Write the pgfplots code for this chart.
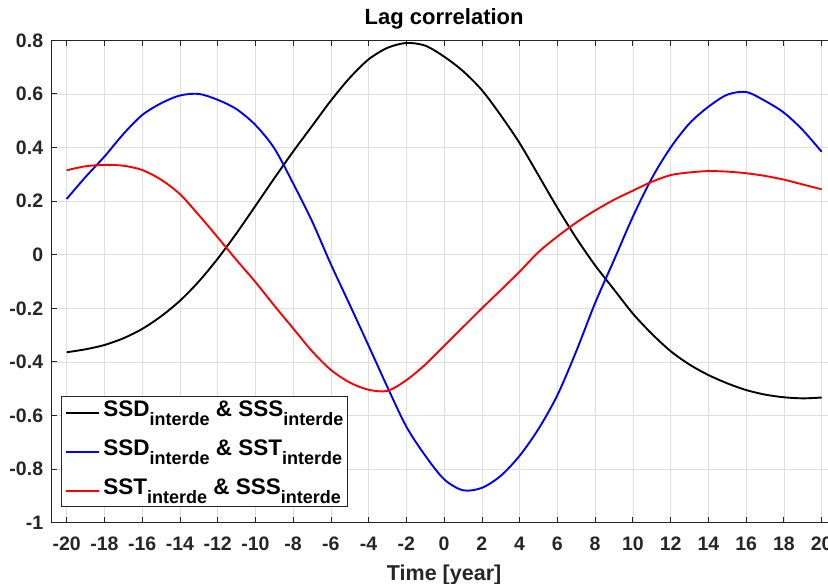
\documentclass[border=0pt]{standalone}
\usepackage{pgfplots}
\pgfplotsset{compat=1.18}
\usepackage{fontspec}
\setmainfont{Liberation Sans}
\definecolor{axgray}{RGB}{38,38,38}
\newcommand{\sub}[1]{\raisebox{-9.3pt}{\fontsize{18}{18}\selectfont #1}}
\newcommand{\legfont}{\fontsize{22.5}{23}\selectfont\bfseries}
\begin{document}
\begin{tikzpicture}
\begin{axis}[
  name=ax,
  scale only axis, width=786.3pt, height=482.4pt,
  xmin=-20.83, xmax=20.83, ymin=-1, ymax=0.8,
  xtick={-20,-18,-16,-14,-12,-10,-8,-6,-4,-2,0,2,4,6,8,10,12,14,16,18,20},
  xticklabels={-20,-18,-16,-14,-12,-10,-8,-6,-4,-2,0,2,4,6,8,10,12,14,16,18,20},
  ytick={-1,-0.8,-0.6,-0.4,-0.2,0,0.2,0.4,0.6,0.8},
  yticklabels={-1,-0.8,-0.6,-0.4,-0.2,0,0.2,0.4,0.6,0.8},
  grid=major,
  major grid style={draw=black!13, line width=0.6pt},
  axis line style={draw=axgray, line width=0.8pt},
  tick style={draw=axgray, line width=0.8pt},
  major tick length=6pt,
  tick align=inside,
  xtick pos=both, ytick pos=both,
  /pgf/number format/assume math mode=true,
  ticklabel style={font=\fontsize{19.5}{20}\selectfont\bfseries, text=axgray, inner sep=0pt},
  xticklabel style={anchor=base, yshift=-27.3pt},
  yticklabel style={anchor=east, xshift=-7.7pt},
  title={Lag correlation},
  title style={at={(axis description cs:0.5,1)}, anchor=base, yshift=9.3pt, font=\fontsize{22}{23}\selectfont\bfseries, inner sep=0pt},
  xlabel={Time [year]},
  xlabel style={at={(axis description cs:0.5,0)}, anchor=base, yshift=-57.3pt, font=\fontsize{21.5}{22}\selectfont\bfseries, text=axgray, inner sep=0pt},
  legend cell align=left,
  legend style={at={(axis description cs:0.0127,0.0325)}, anchor=south west,
    draw=axgray, line width=0.8pt, fill=white, inner xsep=4pt, inner ysep=3pt,
    font=\legfont, row sep=13pt, column sep=3pt,
    nodes={inner sep=0pt, text=black, text height=16.5pt, text depth=9.5pt}},
  legend image code/.code={\draw[#1, line width=2pt] (0pt,0pt) -- (33pt,0pt);},
]
\addplot[black, line width=1.9pt, smooth] coordinates {
(-20,-0.364) (-19,-0.353) (-18,-0.337) (-17,-0.312) (-16,-0.277) (-15,-0.230)
(-14,-0.172) (-13,-0.100) (-12,-0.015) (-11,0.080) (-10,0.182) (-9,0.285)
(-8,0.385) (-7,0.480) (-6,0.575) (-5,0.660) (-4,0.729) (-3,0.772) (-2,0.790)
(-1,0.780) (0,0.739) (1,0.685) (2,0.614) (3,0.520) (4,0.416) (5,0.296)
(6,0.175) (7,0.062) (8,-0.040) (9,-0.130) (10,-0.220) (11,-0.295) (12,-0.360)
(13,-0.410) (14,-0.449) (15,-0.480) (16,-0.505) (17,-0.522) (18,-0.532)
(19,-0.536) (20,-0.533)};
\addlegendentry{SSD\sub{interde} \& SSS\sub{interde}}
\addplot[blue, line width=1.9pt, smooth] coordinates {
(-20,0.208) (-19,0.290) (-18,0.366) (-17,0.450) (-16,0.521) (-15,0.565)
(-14,0.594) (-13,0.600) (-12,0.578) (-11,0.543) (-10,0.484) (-9,0.397)
(-8,0.266) (-7,0.125) (-6,-0.036) (-5,-0.187) (-4,-0.340) (-3,-0.495)
(-2,-0.642) (-1,-0.750) (0,-0.838) (1,-0.879) (2,-0.870)
(3,-0.825) (4,-0.750) (5,-0.650) (6,-0.524) (7,-0.360) (8,-0.180) (9,-0.020)
(10,0.142) (11,0.285) (12,0.400) (13,0.490) (14,0.552) (15,0.597)
(16,0.607) (17,0.574) (18,0.530) (19,0.465) (20,0.384)};
\addlegendentry{SSD\sub{interde} \& SST\sub{interde}}
\addplot[red, line width=1.9pt, smooth] coordinates {
(-20,0.315) (-19,0.330) (-18,0.335) (-17,0.332) (-16,0.316) (-15,0.280)
(-14,0.226) (-13,0.148) (-12,0.065) (-11,-0.020) (-10,-0.102) (-9,-0.190)
(-8,-0.275) (-7,-0.360) (-6,-0.430) (-5,-0.477) (-4,-0.504)
(-3,-0.508) (-2,-0.468) (-1,-0.410) (0,-0.340) (1,-0.270) (2,-0.200)
(3,-0.132) (4,-0.063) (5,0.010) (6,0.068) (7,0.120) (8,0.165) (9,0.205)
(10,0.239) (11,0.272) (12,0.297) (13,0.307) (14,0.312) (15,0.310) (16,0.304)
(17,0.294) (18,0.280) (19,0.262) (20,0.244)};
\addlegendentry{SST\sub{interde} \& SSS\sub{interde}}
\end{axis}
\pgfresetboundingbox
\path ([shift={(-51pt,-61.3pt)}]ax.south west) rectangle ([shift={(-9.3pt,40.3pt)}]ax.north east);
\end{tikzpicture}
\end{document}
